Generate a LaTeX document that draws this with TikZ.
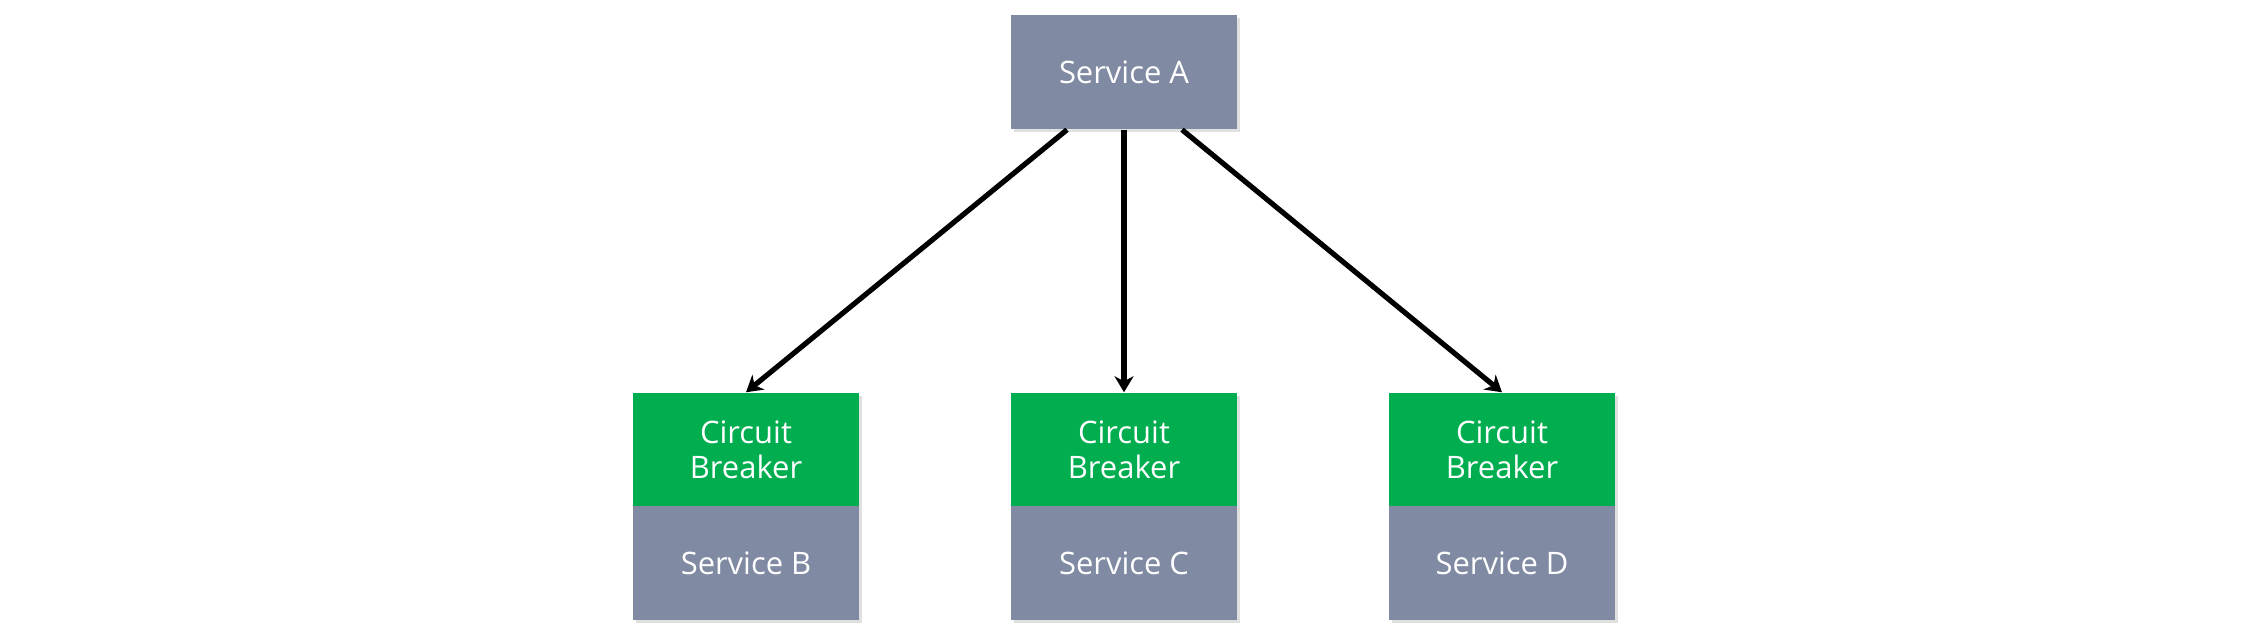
\documentclass[tikz,border=0pt]{standalone}
\usepackage{fontspec}
\setmainfont{Open Sans}
\usetikzlibrary{arrows.meta,positioning,shadows}
\definecolor{svgray}{RGB}{128,139,163}
\definecolor{cbgreen}{RGB}{0,174,80}

\begin{document}
\begin{tikzpicture}[x=0.01cm, y=-0.01cm,
    box/.style={minimum width=2.26cm, minimum height=1.14cm, inner sep=0pt,
        text=white, align=center, font=\fontsize{8.8}{10}\selectfont,
        drop shadow={shadow xshift=0.03cm, shadow yshift=-0.03cm, fill=black!12, opacity=1}},
    service/.style={box, fill=svgray},
    breaker/.style={box, fill=cbgreen},
    call/.style={-{Stealth[length=0.16cm, width=0.19cm, inset=0.05cm]}, line width=0.052cm}]
\useasboundingbox (0,0) rectangle (2246,639);
\node[service] (svA) at (1124,72) {Service A};
\foreach \s/\x/\dx in {B/746/-57, C/1124/0, D/1502/58} {
    \node[breaker] (cb\s) at (\x,450) {Circuit\\Breaker};
    \node[service, below=-0.6pt of cb\s] (sv\s) {Service \s};
    \draw[call] ([xshift=\dx*0.01cm]svA.south) -- (cb\s.north);
}
\end{tikzpicture}
\end{document}
